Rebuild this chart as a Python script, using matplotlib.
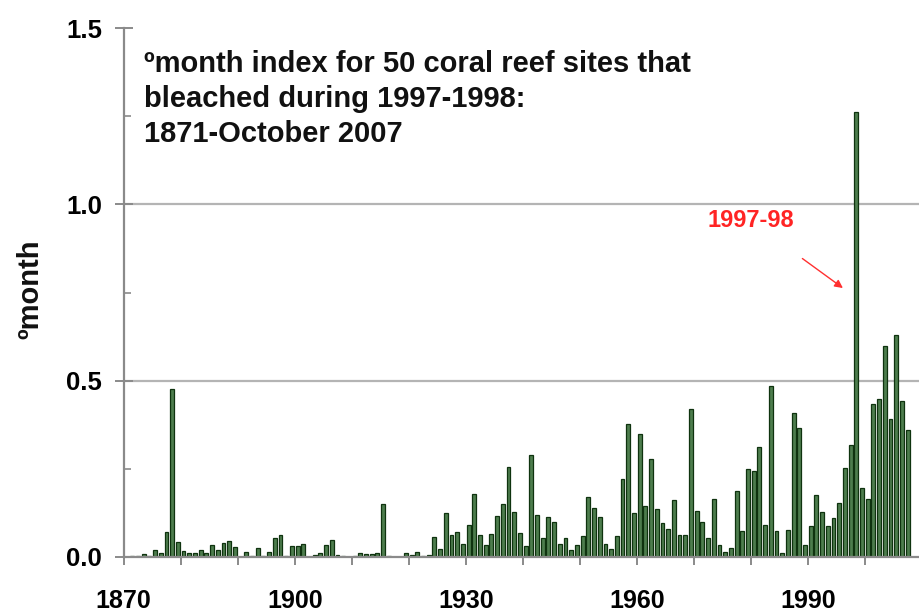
import matplotlib
matplotlib.use("Agg")
import matplotlib.pyplot as plt
from matplotlib.ticker import MultipleLocator, FixedLocator

plt.rcParams['font.family'] = ['Liberation Sans', 'DejaVu Sans']

years = list(range(1871, 2008))
values = [
    # 1871-1880
    0.002, 0.004, 0.008, 0.003, 0.019, 0.011, 0.071, 0.476, 0.043, 0.017,
    # 1881-1890
    0.011, 0.010, 0.019, 0.010, 0.035, 0.019, 0.040, 0.046, 0.029, 0.000,
    # 1891-1900
    0.014, 0.004, 0.026, 0.003, 0.014, 0.055, 0.062, 0.003, 0.031, 0.031,
    # 1901-1910
    0.037, 0.000, 0.005, 0.012, 0.035, 0.048, 0.005, 0.004, 0.000, 0.004,
    # 1911-1920
    0.010, 0.008, 0.008, 0.010, 0.150, 0.003, 0.000, 0.000, 0.010, 0.005,
    # 1921-1930
    0.014, 0.003, 0.005, 0.057, 0.024, 0.126, 0.062, 0.071, 0.038, 0.090,
    # 1931-1940
    0.180, 0.062, 0.033, 0.066, 0.117, 0.150, 0.255, 0.127, 0.067, 0.030,
    # 1941-1950
    0.290, 0.119, 0.054, 0.113, 0.100, 0.038, 0.054, 0.019, 0.033, 0.060,
    # 1951-1960
    0.171, 0.138, 0.113, 0.038, 0.022, 0.060, 0.222, 0.376, 0.126, 0.348,
    # 1961-1970
    0.146, 0.278, 0.135, 0.095, 0.078, 0.163, 0.061, 0.062, 0.421, 0.131,
    # 1971-1980
    0.100, 0.055, 0.165, 0.035, 0.014, 0.026, 0.186, 0.073, 0.250, 0.244,
    # 1981-1990
    0.312, 0.092, 0.484, 0.073, 0.010, 0.076, 0.408, 0.367, 0.035, 0.088,
    # 1991-2000
    0.176, 0.129, 0.088, 0.111, 0.154, 0.252, 0.317, 1.262, 0.197, 0.165,
    # 2001-2007
    0.435, 0.448, 0.599, 0.390, 0.630, 0.441, 0.359,
]
assert len(values) == len(years)

xtick_labels = ["1870", "1900", "1930", "1960", "1990"]
xtick_pos = [int(s) for s in xtick_labels]
yticks = [0.0, 0.5, 1.0, 1.5]
ytick_labels = ["0.0", "0.5", "1.0", "1.5"]

title_lines = ["\u00bamonth index for 50 coral reef sites that",
               "bleached during 1997-1998:",
               "1871-October 2007"]
ylabel = "\u00bamonth"
annot_text = "1997-98"
annot_year = 1998

W, H = 919, 614
fig = plt.figure(figsize=(W / 100, H / 100), dpi=100)
ax = fig.add_axes([123.7 / W, (H - 557) / H, (W - 123.7) / W, 529 / H])

grid_color = "#b4b4b4"
axis_color = "#8a8a8a"

for yv in yticks[1:3]:
    ax.axhline(yv, color=grid_color, lw=1.6, zorder=0)

ax.bar([y + 0.5 for y in years], values, width=0.68,
       color="#4d7d4d", edgecolor="#0f330f", linewidth=0.9, zorder=2)

ax.set_xlim(1870, 2009.5)
ax.set_ylim(0, 1.5)

for s in ["top", "right"]:
    ax.spines[s].set_visible(False)
for s in ["left", "bottom"]:
    ax.spines[s].set_color(axis_color)
    ax.spines[s].set_linewidth(1.6)
ax.spines["left"].set_zorder(3)

ax.xaxis.set_major_locator(FixedLocator(xtick_pos))
ax.set_xticklabels(xtick_labels)
ax.xaxis.set_minor_locator(MultipleLocator(10))
ax.tick_params(axis="x", which="both", direction="out", length=6,
               width=1.4, color=axis_color)
ax.tick_params(axis="x", which="major", pad=17, labelsize=18)

ax.set_yticks(yticks)
ax.set_yticklabels(ytick_labels)
ax.yaxis.set_minor_locator(MultipleLocator(0.25))
ax.tick_params(axis="y", which="major", direction="inout", length=13,
               width=1.4, color=axis_color, pad=9, labelsize=18.5)
ax.tick_params(axis="y", which="minor", direction="in", length=5,
               width=1.2, color=axis_color)

for lab in ax.get_xticklabels() + ax.get_yticklabels():
    lab.set_fontweight("bold")

# title lines
for i, line in enumerate(title_lines):
    fig.text(144 / W, (H - (72 + 35 * i)) / H, line, fontsize=21,
             fontweight="bold", ha="left", va="baseline", color="#111111")

fig.text(30 / W, (H - 289) / H, ylabel, rotation=90, fontsize=21,
         fontweight="bold", ha="center", va="center", color="#111111")

ax.text(1980.0, 0.955, annot_text, color="#ff2424", fontsize=17,
        fontweight="bold", ha="center", va="center")
ax.annotate("", xy=(annot_year - 1.45, 0.758), xytext=(1988.65, 0.851),
            arrowprops=dict(arrowstyle="-|>", color="#ff3030", lw=1.0,
                            mutation_scale=12))

fig.savefig("out.png", dpi=100)
